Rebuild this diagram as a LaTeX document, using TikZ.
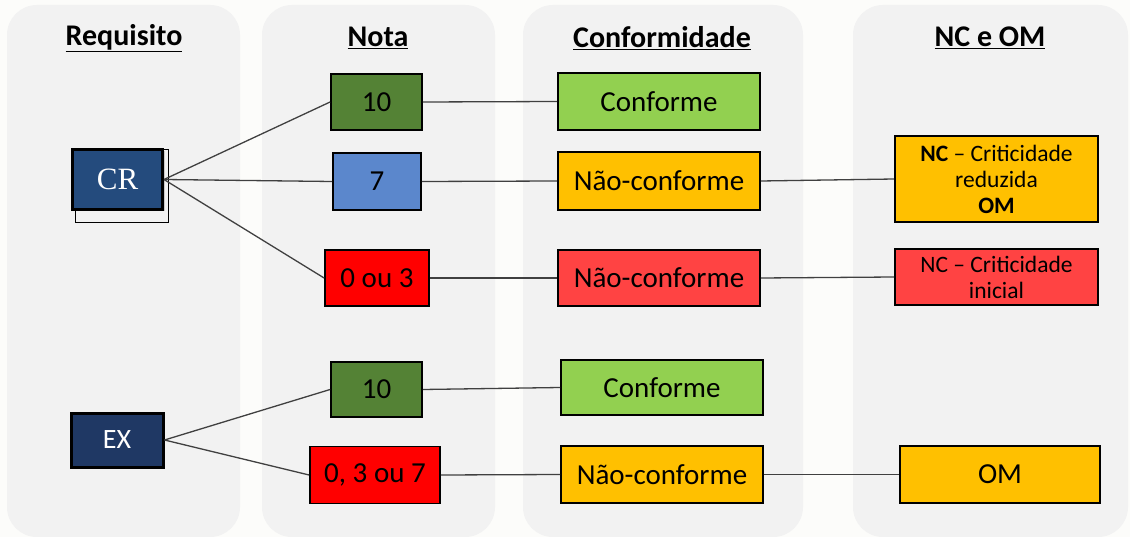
\documentclass[tikz,border=0pt]{standalone}
\usepackage{fontspec}
\setmainfont{Carlito}
\newfontfamily\serifcr{Liberation Serif}
\usetikzlibrary{shadows}
\definecolor{bgc}{HTML}{FCFCFA}
\definecolor{colc}{HTML}{F2F2F2}
\definecolor{dgreen}{HTML}{548235}
\definecolor{lblue}{HTML}{5B87CC}
\definecolor{lgreen}{HTML}{92D050}
\definecolor{amber}{HTML}{FFC000}
\definecolor{lred}{HTML}{FF4343}
\definecolor{crblue}{HTML}{244B7D}
\definecolor{exblue}{HTML}{1F3864}
\definecolor{linec}{HTML}{404040}
\tikzset{
  colbox/.style={fill=colc, rounded corners=30pt},
  hdr/.style={font=\fontsize{30}{32}\selectfont\bfseries, anchor=center},
  box/.style={draw=black, line width=1.8pt, inner sep=0pt, align=center,
    font=\fontsize{29}{31}\selectfont},
  nbox/.style={box, font=\fontsize{23.5}{26}\selectfont},
  reqbox/.style={draw=black, line width=3pt, inner sep=0pt, text=white,
    drop shadow={shadow xshift=2pt, shadow yshift=-2pt, opacity=0.35}},
  conn/.style={draw=linec, line width=1.3pt},
}
\begin{document}
\begin{tikzpicture}[x=1pt,y=-1pt]
\useasboundingbox (0,0) rectangle (1130,537);
\fill[bgc] (0,0) rectangle (1130,537);
% columns
\fill[colbox] (7,5) rectangle (240,537);
\fill[colbox] (262,5) rectangle (495,537);
\fill[colbox] (523,5) rectangle (803,537);
\fill[colbox] (853,5) rectangle (1128,537);
% headers
\node[hdr] (h1) at (124,38) {\underline{Requisito}};
\node[hdr] (h2) at (378,38) {\underline{Nota}};
\node[hdr] (h3) at (662,38) {\underline{Conformidade}};
\node[hdr] (h4) at (990,38) {\underline{NC e OM}};
% requirement boxes
\draw[black, line width=0.7pt] (75.5,149) rectangle (168,222);
\node[reqbox, fill=crblue, minimum width=90pt, minimum height=60pt,
  font=\fontsize{31}{33}\selectfont\serifcr] (cr) at (117.5,179.5) {CR};
\node[reqbox, fill=exblue, minimum width=92pt, minimum height=54pt,
  font=\fontsize{28}{30}\selectfont] (ex) at (117,440) {EX};
% nota boxes
\node[box, fill=dgreen, minimum width=91pt, minimum height=56pt] (n1) at (376.5,102) {10};
\node[box, fill=lblue, minimum width=88pt, minimum height=57pt] (n2) at (377,181.5) {7};
\node[box, fill=red, minimum width=104pt, minimum height=56pt] (n3) at (377,278) {0 ou 3};
\node[box, fill=dgreen, minimum width=91pt, minimum height=55pt] (n4) at (376.5,389.5) {10};
\node[box, fill=red, minimum width=130pt, minimum height=57pt] (n5) at (375,475) {0, 3 ou 7};
% conformidade boxes
\node[box, fill=lgreen, minimum width=202pt, minimum height=57pt] (c1) at (659,101.5) {Conforme};
\node[box, fill=amber, minimum width=202pt, minimum height=58pt] (c2) at (659,181) {Não-conforme};
\node[box, fill=lred, minimum width=202pt, minimum height=56pt] (c3) at (659,278) {Não-conforme};
\node[box, fill=lgreen, minimum width=202pt, minimum height=55pt] (c4) at (662,387.5) {Conforme};
\node[box, fill=amber, minimum width=202pt, minimum height=57pt] (c5) at (662,474.5) {Não-conforme};
% NC e OM boxes
\node[nbox, fill=amber, minimum width=203pt, minimum height=86pt] (o1) at (996.5,179)
  {\textbf{NC} – Criticidade\\reduzida\\\textbf{OM}};
\node[nbox, fill=lred, minimum width=203pt, minimum height=56pt] (o2) at (996.5,277)
  {NC – Criticidade\\inicial};
\node[box, fill=amber, minimum width=200pt, minimum height=57pt] (o3) at (1000,474.5) {OM};
% connectors
\draw[conn] (cr.east) -- (n1.west);
\draw[conn] (cr.east) -- (n2.west);
\draw[conn] (cr.east) -- (n3.west);
\draw[conn] (ex.east) -- (n4.west);
\draw[conn] (ex.east) -- (n5.west);
\draw[conn] (n1.east) -- (c1.west);
\draw[conn] (n2.east) -- (c2.west);
\draw[conn] (n3.east) -- (c3.west);
\draw[conn] (n4.east) -- (c4.west);
\draw[conn] (n5.east) -- (c5.west);
\draw[conn] (c2.east) -- (o1.west);
\draw[conn] (c3.east) -- (o2.west);
\draw[conn] (c5.east) -- (o3.west);
\end{tikzpicture}
\end{document}
